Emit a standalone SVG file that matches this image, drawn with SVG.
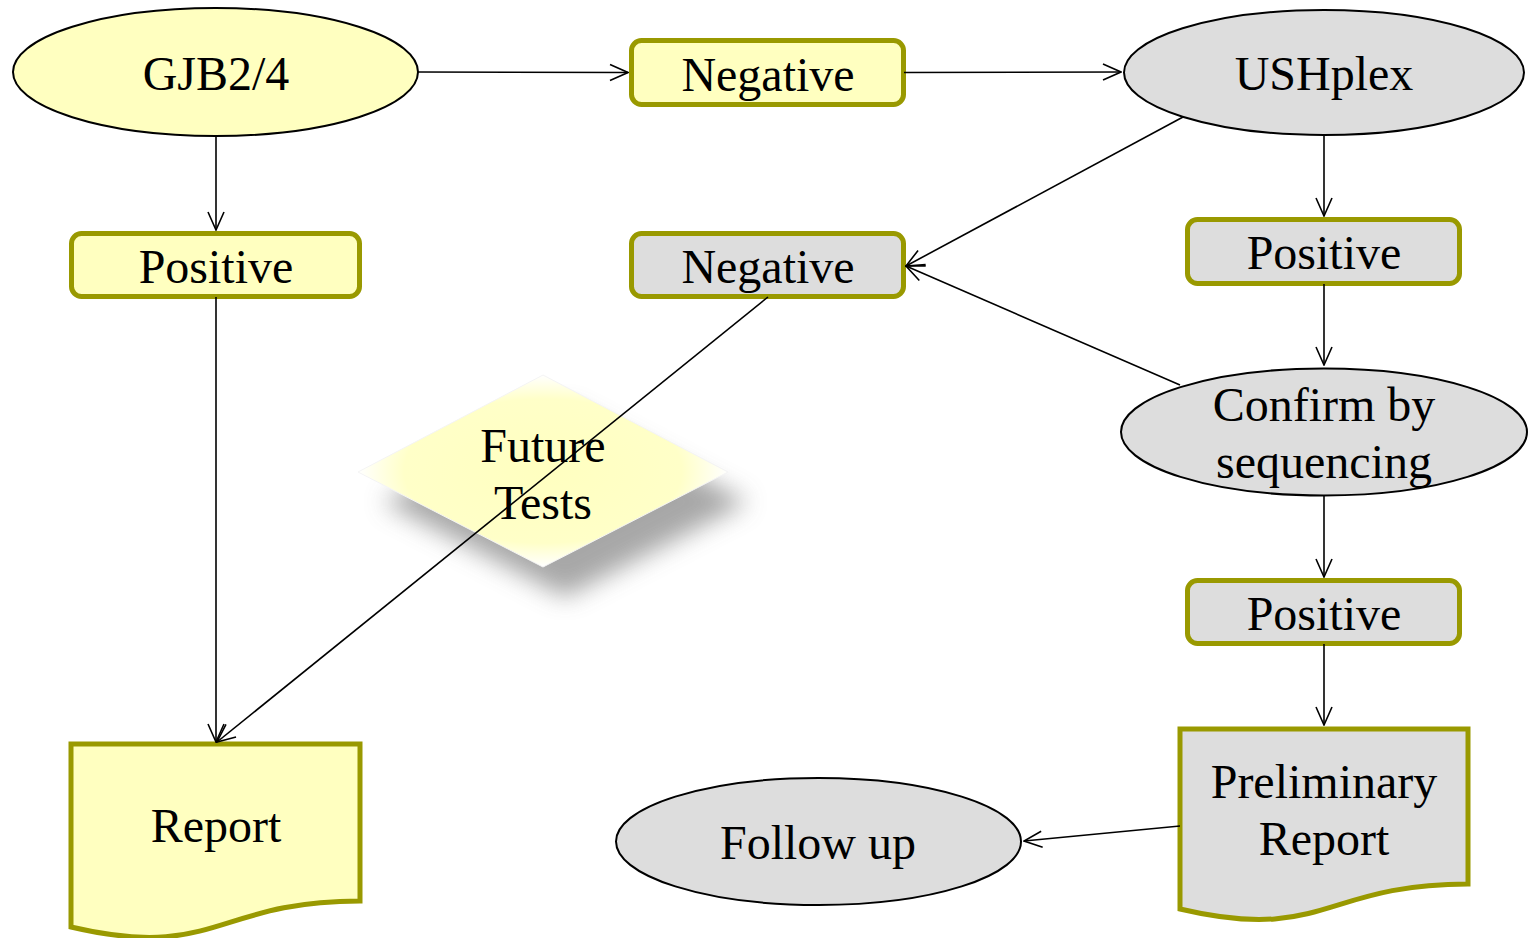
<svg xmlns="http://www.w3.org/2000/svg" width="1528" height="938" viewBox="0 0 1528 938">
<style>
.t{font-family:"Liberation Serif","Times New Roman",serif;font-size:48px;fill:#000;text-anchor:middle}
.ey{fill:#FFFFC0;stroke:#000;stroke-width:2}
.eg{fill:#DDDDDD;stroke:#000;stroke-width:2}
.by{fill:#FFFFC0;stroke:#999900;stroke-width:5}
.bg{fill:#DDDDDD;stroke:#999900;stroke-width:5}
.c{fill:none;stroke:#000;stroke-width:1.6;marker-end:url(#a)}
</style>
<defs>
<marker id="a" viewBox="0 0 20 20" refX="19" refY="10" markerWidth="20" markerHeight="20" markerUnits="userSpaceOnUse" orient="auto">
<path d="M1,2 L19,10 L1,18" fill="none" stroke="#000" stroke-width="1.6"/>
</marker>
<radialGradient id="dg" cx="0.5" cy="0.5" r="0.5">
<stop offset="0" stop-color="#FFFFC0"/>
<stop offset="0.75" stop-color="#FFFFC8"/>
<stop offset="1" stop-color="#FFFFFF"/>
</radialGradient>
<filter id="sh" x="-30%" y="-30%" width="160%" height="170%">
<feGaussianBlur stdDeviation="12"/>
</filter>
</defs>

<g id="future">
<path d="M361,472 L543,377 L726,472 L543,567 Z" transform="translate(22,30)" fill="#8a8a8a" opacity="0.75" filter="url(#sh)"/>
<path d="M358,472 L543,375 L728,472 L543,567 Z" fill="url(#dg)" stroke="#F4F4F4" stroke-width="1"/>
<text class="t" x="543" y="462">Future</text>
<text class="t" x="543" y="519">Tests</text>
</g>

<g id="gjb">
<ellipse class="ey" cx="215.5" cy="72" rx="202.5" ry="64"/>
<text class="t" x="216" y="90">GJB2/4</text>
</g>
<g id="neg1">
<rect class="by" x="631.5" y="40.5" width="272" height="64" rx="10"/>
<text class="t" x="768" y="91">Negative</text>
</g>
<g id="ush">
<ellipse class="eg" cx="1324" cy="72.5" rx="200" ry="62.5"/>
<text class="t" x="1324" y="90">USHplex</text>
</g>
<g id="pos1">
<rect class="by" x="71.5" y="233.5" width="288" height="63" rx="10"/>
<text class="t" x="216" y="283">Positive</text>
</g>
<g id="neg2">
<rect class="bg" x="631.5" y="233.5" width="272" height="63" rx="10"/>
<text class="t" x="768" y="283">Negative</text>
</g>
<g id="pos2">
<rect class="bg" x="1187.5" y="219.5" width="272" height="64" rx="10"/>
<text class="t" x="1324" y="269">Positive</text>
</g>
<g id="confirm">
<ellipse class="eg" cx="1324" cy="432" rx="203" ry="63.5"/>
<text class="t" x="1324" y="421">Confirm by</text>
<text class="t" x="1324" y="478">sequencing</text>
</g>
<g id="pos3">
<rect class="bg" x="1187.5" y="580.5" width="272" height="63" rx="10"/>
<text class="t" x="1324" y="630">Positive</text>
</g>
<g id="report">
<path class="by" d="M71,744 H360 V901 C215.5,901 215.5,961 71,927 Z"/>
<text class="t" x="216" y="842">Report</text>
</g>
<g id="prelim">
<path class="bg" d="M1180,729 H1468 V884 C1324,884 1324,943 1180,909 Z"/>
<text class="t" x="1324" y="798">Preliminary</text>
<text class="t" x="1324" y="855">Report</text>
</g>
<g id="follow">
<ellipse class="eg" cx="818.5" cy="841.5" rx="202.5" ry="63.5"/>
<text class="t" x="818" y="859">Follow up</text>
</g>

<g id="connectors">
<path class="c" d="M418,72 L628,72.5"/>
<path class="c" d="M904,72.5 L1121,72"/>
<path class="c" d="M216,136 L216,230"/>
<path class="c" d="M1183,117 L906,266"/>
<path class="c" d="M1180,385 L906,266"/>
<path class="c" d="M1324,135 L1324,216"/>
<path class="c" d="M1324,284 L1324,365"/>
<path class="c" d="M1324,496 L1324,577"/>
<path class="c" d="M1324,644 L1324,725"/>
<path class="c" d="M216,297 L216,742"/>
<path class="c" d="M768,297 L217,742"/>
<path class="c" d="M1180,826 L1024,841"/>
</g>
</svg>
